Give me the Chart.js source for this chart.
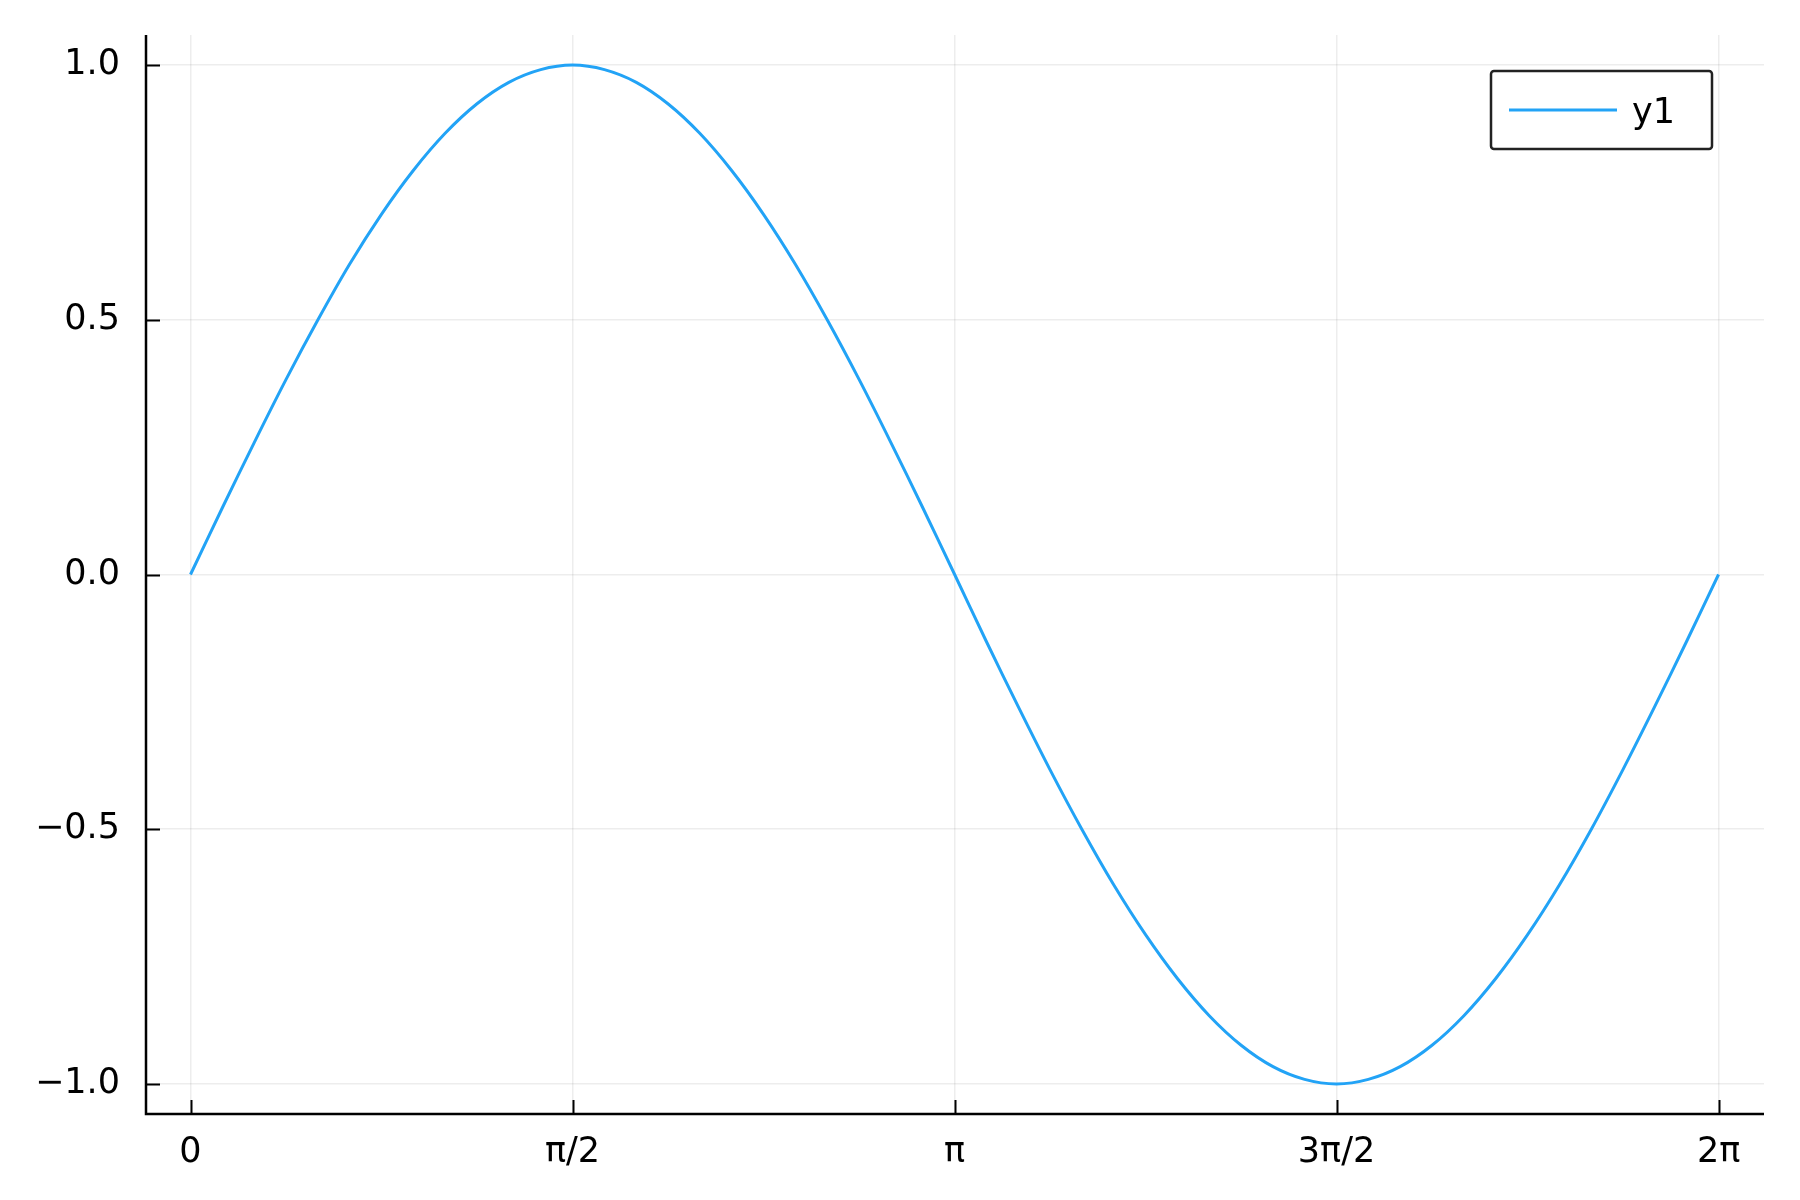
<!DOCTYPE html>
<html>
<head>
<meta charset="utf-8">
<script src="https://cdn.jsdelivr.net/npm/chart.js@4/dist/chart.umd.min.js"></script>
<style>
  html, body { margin: 0; padding: 0; background: #fff; }
  #chart-div { width: 1800px; height: 1200px; position: relative; }
</style>
</head>
<body>
<div id="chart-div"><canvas id="myChart"></canvas></div>
<script>
// values (x in radians, every 7.5 degrees)
const xValues = [0, 0.131, 0.262, 0.393, 0.524, 0.654, 0.785, 0.916, 1.047, 1.178, 1.309, 1.440,
  1.571, 1.702, 1.833, 1.963, 2.094, 2.225, 2.356, 2.487, 2.618, 2.749, 2.880, 3.011,
  3.142, 3.272, 3.403, 3.534, 3.665, 3.796, 3.927, 4.058, 4.189, 4.320, 4.451, 4.581,
  4.712, 4.843, 4.974, 5.105, 5.236, 5.367, 5.498, 5.629, 5.760, 5.890, 6.021, 6.152, 6.283];
const yValues = [0, 0.131, 0.259, 0.383, 0.5, 0.609, 0.707, 0.793, 0.866, 0.924, 0.966, 0.991,
  1.0, 0.991, 0.966, 0.924, 0.866, 0.793, 0.707, 0.609, 0.5, 0.383, 0.259, 0.131,
  0, -0.131, -0.259, -0.383, -0.5, -0.609, -0.707, -0.793, -0.866, -0.924, -0.966, -0.991,
  -1.0, -0.991, -0.966, -0.924, -0.866, -0.793, -0.707, -0.609, -0.5, -0.383, -0.259, -0.131, 0];
const seriesName = "y1";

const xTickValues = [0, 1.5708, 3.1416, 4.7124, 6.2832];
const xTickLabels = ["0", "π/2", "π", "3π/2", "2π"];
const yTickValues = [-1, -0.5, 0, 0.5, 1];
const yTickLabels = ["\u22121.0", "\u22120.5", "0.0", "0.5", "1.0"];

const FONT = { family: "'DejaVu Sans', sans-serif", size: 35 };

// inward tick marks + axis spines like the original
const spines = {
  id: "spines",
  afterDatasetsDraw(chart) {
    const { ctx, chartArea: a, scales } = chart;
    ctx.save();
    ctx.strokeStyle = "#000";
    ctx.lineWidth = 2;
    ctx.beginPath();
    xTickValues.forEach(v => {
      const px = Math.round(scales.x.getPixelForValue(v)) + 0.5;
      ctx.moveTo(px, a.bottom); ctx.lineTo(px, a.bottom - 14);
    });
    yTickValues.forEach(v => {
      const py = Math.round(scales.y.getPixelForValue(v)) + 0.5;
      ctx.moveTo(a.left, py); ctx.lineTo(a.left + 14, py);
    });
    ctx.stroke();
    ctx.lineWidth = 2.5;
    ctx.beginPath();
    ctx.moveTo(a.left, a.top);
    ctx.lineTo(a.left, a.bottom);
    ctx.lineTo(a.right, a.bottom);
    ctx.stroke();
    ctx.restore();
  }
};

// legend box inside the plot, top right
const boxLegend = {
  id: "boxLegend",
  afterDraw(chart) {
    const { ctx, chartArea: a } = chart;
    const ds = chart.data.datasets[0];
    const w = 221, h = 78;
    const x0 = a.right - 52 - w, y0 = a.top + 36;
    ctx.save();
    ctx.fillStyle = "#fff";
    ctx.strokeStyle = "#222";
    ctx.lineWidth = 2.5;
    ctx.beginPath();
    ctx.roundRect(x0, y0, w, h, 3);
    ctx.fill();
    ctx.stroke();
    ctx.strokeStyle = ds.borderColor;
    ctx.lineWidth = 3;
    ctx.beginPath();
    ctx.moveTo(x0 + 18, y0 + 39);
    ctx.lineTo(x0 + 126, y0 + 39);
    ctx.stroke();
    ctx.fillStyle = "#000";
    ctx.font = FONT.size + "px " + FONT.family;
    ctx.textBaseline = "middle";
    ctx.fillText(ds.label, x0 + 141, y0 + 43);
    ctx.restore();
  }
};

new Chart(document.getElementById("myChart"), {
  type: "line",
  data: {
    datasets: [{
      label: seriesName,
      data: xValues.map((x, i) => ({ x: x, y: yValues[i] })),
      borderColor: "#22A3F6",
      borderWidth: 3,
      pointRadius: 0,
      fill: false,
      tension: 0.35
    }]
  },
  options: {
    responsive: true,
    maintainAspectRatio: false,
    animation: false,
    layout: { padding: { top: 35, right: 36, left: 0, bottom: 0 } },
    plugins: { legend: { display: false }, tooltip: { enabled: false } },
    scales: {
      x: {
        type: "linear",
        min: -0.183,
        max: 6.47,
        afterBuildTicks: s => { s.ticks = xTickValues.map(v => ({ value: v })); },
        afterFit: s => { s.height = 86; s.paddingLeft = 0; s.paddingRight = 0; },
        grid: { color: "rgba(0,0,0,0.07)", lineWidth: 1.5, drawTicks: false },
        border: { display: false },
        ticks: {
          color: "#000",
          font: FONT,
          padding: 18,
          maxRotation: 0,
          autoSkip: false,
          callback: (v, i) => xTickLabels[i]
        }
      },
      y: {
        min: -1.059,
        max: 1.059,
        afterBuildTicks: s => { s.ticks = yTickValues.map(v => ({ value: v })); },
        afterFit: s => { s.width = 146; s.paddingTop = 0; s.paddingBottom = 0; },
        grid: { color: "rgba(0,0,0,0.07)", lineWidth: 1.5, drawTicks: false },
        border: { display: false },
        ticks: {
          color: "#000",
          font: FONT,
          padding: 26,
          autoSkip: false,
          callback: (v, i) => yTickLabels[i]
        }
      }
    }
  },
  plugins: [spines, boxLegend]
});
</script>
</body>
</html>
